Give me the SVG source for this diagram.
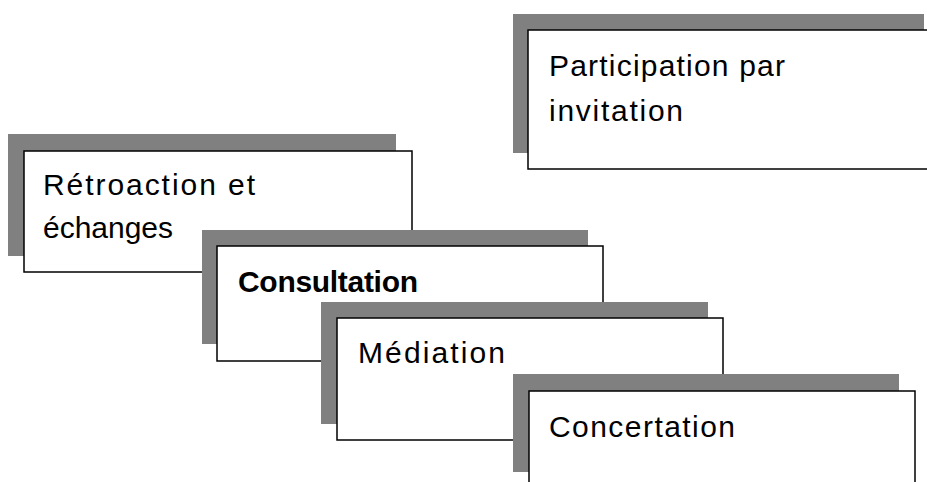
<svg xmlns="http://www.w3.org/2000/svg" width="927" height="482" viewBox="0 0 927 482">
<style>
.sh{fill:#808080;}
.bx{fill:#ffffff;stroke:#000000;stroke-width:1.5;}
.t{font-family:"Liberation Sans",Arial,sans-serif;font-size:30px;fill:#000000;}
.b{font-weight:bold;}
</style>
<rect width="927" height="482" fill="#ffffff"/>
<g id="connectors"></g>
<g id="participation">
<rect class="sh" x="513" y="14" width="411" height="139"/>
<rect class="bx" x="528" y="30" width="411" height="139"/>
<text class="t" x="549" y="76" textLength="236" lengthAdjust="spacing">Participation par</text>
<text class="t" x="549" y="121" textLength="134" lengthAdjust="spacing">invitation</text>
</g>
<g id="retroaction">
<rect class="sh" x="8" y="134" width="388" height="122"/>
<rect class="bx" x="24" y="151" width="388" height="121"/>
<text class="t" x="43" y="195" textLength="212" lengthAdjust="spacing">Rétroaction et</text>
<text class="t" x="43" y="238" textLength="130" lengthAdjust="spacing">échanges</text>
</g>
<g id="consultation">
<rect class="sh" x="202" y="230" width="386" height="114"/>
<rect class="bx" x="217" y="246" width="386" height="115"/>
<text class="t b" x="238" y="292" textLength="180" lengthAdjust="spacing">Consultation</text>
</g>
<g id="mediation">
<rect class="sh" x="321" y="302" width="387" height="122"/>
<rect class="bx" x="337" y="318" width="386" height="122"/>
<text class="t" x="358" y="363" textLength="147" lengthAdjust="spacing">Médiation</text>
</g>
<g id="concertation">
<rect class="sh" x="513" y="374" width="386" height="98"/>
<rect class="bx" x="529" y="391" width="386" height="110"/>
<text class="t" x="549" y="437" textLength="186" lengthAdjust="spacing">Concertation</text>
</g>
</svg>
